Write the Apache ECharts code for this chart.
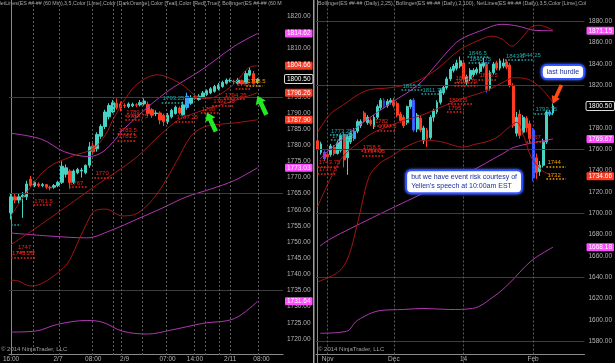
<!DOCTYPE html>
<html><head><meta charset="utf-8">
<script src="https://cdn.jsdelivr.net/npm/echarts@6/dist/echarts.min.js"></script>
<style>html,body{margin:0;padding:0;background:#000;}#c{width:615px;height:363px;}</style>
</head><body><div id="c"></div>
<script>
// ================= DATA =================
// ---- Left panel: ES 60 min ----
const leftBarCount = 70;
const leftTickIdx = [0, 12, 21, 29, 40, 47, 56, 64];
const leftTickText = ['16:00', '2/7', '08:00', '2/9', '07:00', '14:00', '2/11', '08:00'];
// [open, close, low, high]
const leftOHLC = [
 [1759,1764,1757,1765],[1764,1763,1762,1765],[1763,1764,1762,1765],[1764,1764.5,1757.5,1765.5],
 [1764,1768,1763,1769],[1769.5,1767.5,1767,1770.5],[1767.5,1768.5,1767,1769],[1768,1767.5,1767,1768.5],
 [1767.5,1767.8,1767,1768.3],[1767.8,1767,1766.5,1768],[1767,1766.8,1766,1767.5],[1767,1767.5,1766.5,1768],
 [1767.5,1768.5,1767,1769],[1768.5,1773.5,1768,1775],[1771,1773,1770,1774],[1772,1768.5,1766.5,1772.5],
 [1768.5,1772,1768,1772.5],[1771.5,1772.5,1771,1773],[1772,1772.3,1770,1773],[1771.5,1773.8,1771,1774],
 [1773.8,1779.5,1773,1781],[1779.8,1778,1777,1781],[1778.9,1783.3,1778,1784],[1782.8,1785.8,1782,1786.5],
 [1785.8,1790.3,1785,1791],[1788.8,1792.3,1788,1793],[1790.3,1793.2,1790,1794],[1793,1791.6,1791,1794.5],
 [1792.8,1791.5,1790.5,1793.5],[1792.3,1792.2,1791.5,1793],[1792,1792.8,1791.5,1793.3],[1792.2,1792.7,1791.8,1793.2],
 [1792.5,1792.4,1791.8,1793],[1792.5,1793.2,1792,1794],[1792.8,1793.7,1792.3,1794.5],[1792.6,1789.8,1789,1793.5],
 [1791,1789.3,1788.5,1791.5],[1789.8,1790,1789,1790.8],[1790,1787.8,1786.5,1790.5],[1789.3,1787.3,1786,1789.8],
 [1787.3,1789.3,1786.5,1790],[1788.8,1790.8,1788.3,1791.3],[1789.8,1791.8,1789.5,1792.3],[1791.5,1790,1789.5,1792],
 [1789.5,1792.5,1789,1793.5],[1791.7,1795.2,1791,1796.3],[1793,1794.6,1792.5,1795.5],[1795,1794.5,1794,1795.5],
 [1794.2,1795.2,1793.8,1795.8],[1794.7,1796.2,1794.3,1796.8],[1795.7,1796.9,1795.3,1797.3],[1796.2,1797.5,1795.8,1798],
 [1796.7,1798.2,1796.3,1798.7],[1797.5,1798.7,1797,1799.3],[1798.2,1799.5,1797.8,1800],[1799.2,1800.2,1798.8,1800.7],
 [1800,1800.1,1799.5,1800.7],[1799.8,1799.7,1799,1800.3],[1799.2,1800.2,1798.8,1800.8],[1800,1799,1798.5,1800.4],
 [1799.2,1802.2,1799,1803],[1801.7,1803.2,1801.3,1804.2],[1802.2,1799.2,1798.8,1803],[1799.4,1800.5,1799,1800.8]
];
// Bollinger bands: [bar index, price]
const leftBB25Upper = [[0,1758.1],[4.4,1766.1],[9.4,1773.0],[16.1,1776.8],[21,1778.9],[24.2,1783.4],[26,1787.8],[29.2,1794.4],[32.4,1799.1],[37.3,1801.8],[43.3,1799.1],[47.2,1795.3],[49.7,1794.4],[52.7,1795.3],[57.1,1799.1],[60.6,1803.9],[63,1804.66]];
const leftBB25Mid = [[0,1749.2],[5.2,1753.4],[14.3,1761.1],[21.8,1767.6],[31.7,1775.9],[38.3,1783.4],[42.8,1787.8],[49,1790.8],[57.1,1793.8],[63,1796.26]];
const leftBB25Lower = [[0,1738.2],[2,1737.9],[4.9,1736.4],[6.9,1736.7],[10.1,1738.8],[14.3,1743.2],[16.8,1749.2],[19.3,1755.7],[21.3,1759.6],[24.2,1760.2],[28.4,1758.1],[32.4,1759.0],[37.3,1764.9],[42.3,1775.0],[45.8,1782.5],[49,1785.5],[52.7,1786.4],[57.1,1786.9],[63,1787.90]];
const leftBB100Upper = [[0,1783.7],[7.7,1781.9],[13.6,1778.0],[20,1776.5],[23.5,1778.0],[26.7,1781.9],[28.7,1784.9],[39.1,1795.9],[49,1803.6],[57.1,1810.7],[63,1814.62]];
const leftBB100Mid = [[0,1752.8],[9.4,1751.9],[19.3,1751.3],[25.5,1753.6],[32.4,1757.2],[38.6,1760.5],[44.8,1764.0],[51,1766.4],[57.1,1769.1],[63,1773.03]];
const leftBB100Lower = [[0,1722.1],[6.2,1722.4],[11.9,1724.5],[19.3,1725.7],[23.5,1725.1],[28.4,1722.4],[34.9,1721.5],[40.8,1722.7],[49,1724.8],[57.1,1726.3],[63,1731.64]];
// NetLines: [text, price, from bar, to bar]
const leftNotesTeal = [['1793.25',1793.25,38.5,44],['',1755.5,0,2.5]];
const leftNotesRed = [['1761.5',1761.5,5.7,10.6],['1767',1767,14.8,19.3],['1770',1770,21.3,26],['1783.5',1783.5,27.2,31.7],['1781.5',1781.5,27.2,31.7],['1789',1789,29.2,32.9],['1787.75',1787.75,29.2,33.5],['1787.25',1787.25,42,47],['1790',1790,48.5,53.4],['1792.25',1792.25,51.4,56.9],['1794.25',1794.25,54.4,60.1],['1797.5',1797.5,57.4,61.3],['1747',1747,1.5,6.4],['1745.25',1745.25,0,6.4]];
const leftNotesOrange = [['1798.5',1798.5,60.1,64.3]];
const leftFlagMagenta = [1814.62, 1773.03, 1731.64];
const leftFlagRed = [1804.66, 1796.26, 1787.90];
const leftLast = 1800.50;
const leftArrows = [[51.2,1787.2],[64.1,1792.4]];
const leftHGrid = [1735, 1765, 1795];
const leftVGrid = [5.7, 12.4, 20.8, 26.2, 28.2, 33.4, 39.6, 46.7, 49.7, 53.2, 55.9, 63.3];

// ---- Right panel: ES daily ----
const rightBarCount = 81;
const rightTickIdx = [3, 23, 44, 65];
const rightTickText = ['Nov', 'Dec', '14', 'Feb'];
const rightOHLC = [
 [1768,1760,1757,1771],[1757,1765,1755,1767],[1757,1751,1749,1759],[1755,1753,1750,1757],
 [1755,1763,1753,1765],[1762,1756,1754,1764],[1756,1766,1755,1768],[1759,1773,1757,1775],
 [1774,1750,1743,1776],[1752,1772,1736,1774],[1767,1775,1765,1777],[1770,1777,1768,1780],
 [1777,1786,1775,1788],[1782,1786,1780,1788],[1794,1787,1785,1796],[1785,1790,1783,1792],
 [1787,1784,1782,1789],[1781,1790,1779,1792],[1790,1800,1788,1802],[1799,1806,1797,1808],
 [1800,1806,1798,1808],[1801,1805,1799,1807],[1804,1806,1802,1808],[1806,1801,1799,1808],
 [1803,1792,1790,1805],[1793,1787,1785,1795],[1790,1782,1780,1792],[1785,1800,1783,1801],
 [1800,1806,1798,1807],[1806,1778,1776,1808],[1779,1792,1776,1794],[1789,1778,1776,1792],
 [1768,1780,1765,1782],[1778,1770,1762,1780],[1771,1790,1769,1792],[1790,1796,1786,1798],
 [1795,1804,1793,1806],[1804,1815,1802,1817],[1813,1818,1811,1820],[1818,1826,1816,1828],
 [1826,1835,1824,1837],[1834,1838,1832,1840],[1836,1841,1834,1844],[1838,1843,1836,1847],
 [1841,1826,1824,1844],[1823,1828,1820,1830],[1826,1834,1824,1836],[1830,1834,1828,1836],
 [1832,1835,1830,1837],[1833,1840,1831,1842],[1838,1841,1836,1846],[1840,1816,1813,1842],
 [1817,1832,1815,1834],[1832,1840,1830,1842],[1841,1836,1834,1843],[1836,1843,1834,1845],
 [1838,1841,1836,1845],[1842,1837,1835,1844],[1839,1820,1818,1841],[1820,1782,1780,1822],
 [1775,1790,1772,1795],[1793,1773,1770,1797],[1776,1790,1774,1792],[1789,1780,1776,1791],
 [1784,1770,1766,1787],[1778,1733,1730,1780],[1752,1738,1732,1756],[1739,1745,1735,1749],
 [1745,1767,1743,1770],[1767,1795,1765,1797],[1793,1795,1791,1797],[1794,1800.5,1792,1803]
];
const rightBB25Upper = [[0,1776.0],[3.7,1792.7],[7.5,1801.1],[14.6,1815.0],[22.1,1817.8],[28.9,1822.4],[35.7,1834.5],[42.8,1853.1],[48.8,1862.4],[52.6,1866.1],[55.6,1863.3],[58.6,1856.8],[61.5,1864.2],[64.4,1874.4],[66.9,1876.3],[71,1871.6]];
const rightBB25Mid = [[0,1706.3],[3.7,1731.4],[7.5,1752.8],[12.6,1766.7],[17,1776.0],[21.5,1781.6],[25.9,1787.1],[30.4,1790.8],[36.3,1798.3],[42.8,1806.6],[47.6,1811.3],[51.7,1815.9],[55.6,1822.4],[59.4,1827.1],[62.9,1826.1],[65.4,1822.4],[68.1,1815.0],[71,1803.8]];
const rightBB25Lower = [[0,1635.7],[3.7,1640.4],[6.6,1645.9],[9,1657.1],[11.1,1678.5],[13.2,1706.3],[15.5,1734.2],[18.5,1746.3],[22.9,1754.6],[25.9,1761.1],[29.8,1766.7],[32.7,1768.5],[37.8,1766.7],[40.7,1763.9],[43.7,1762.0],[47.6,1764.8],[50.5,1766.7],[54.1,1771.3],[57.7,1780.6],[60,1785.3],[62.3,1771.3],[64.4,1752.8],[67.5,1740.7],[71,1734.66]];
const rightBB100Upper = [[0.7,1750.9],[2.8,1757.4],[12.6,1782.5],[22.3,1803.8],[30.4,1820.6],[35.7,1839.1],[39.3,1852.1],[42.8,1862.4],[48.8,1870.7],[55.6,1877.2],[60.6,1875.4],[65.4,1871.6],[71,1871.15]];
const rightBB100Mid = [[0.7,1669.2],[3.7,1675.7],[16.1,1695.2],[31,1717.5],[45.8,1738.8],[55.6,1755.5],[59.4,1762.0],[71,1769.67]];
const rightBB100Lower = [[0.7,1587.4],[8.7,1589.3],[12,1599.5],[19.1,1608.8],[25.9,1609.7],[31.8,1610.7],[39.9,1609.7],[46.7,1610.7],[53.5,1622.7],[57.7,1633.9],[64.4,1655.2],[71,1668.18]];
const rightNotesTeal = [['1773.25',1773.25,3.7,11.4],['1768.75',1768.75,4,11],['1815.5',1815.5,25.3,31.8],['1811.75',1811.75,31.3,37.5],['1846.5',1846.5,45.2,51.7],['1840.75',1840.75,45.5,52],['1843.5',1843.5,56.5,61],['1844.25',1844.25,60.5,65.4],['1793.75',1793.75,65.4,70.7]];
const rightNotesRed = [['1743.75',1743.75,0,6.6],['1737.5',1737.5,0,5.5],['1758.5',1758.5,13.2,20],['1754.25',1754.25,13.5,20],['1782',1782,17,22.9],['1777.5',1777.5,18,23.5],['1802.5',1802.5,39.3,46.7],['1795',1795,39,44],['1822.5',1822.5,41.3,48.2],['1819.75',1819.75,41.3,48.2],['1825.5',1825.5,48.5,54],['1767',1767,63,68]];
const rightNotesOrange = [['1744',1744,69,74.9],['1732',1732,69,74.9]];
const rightFlagMagenta = [1871.15, 1769.67, 1668.18];
const rightFlagRed = [1734.66];
const rightLast = 1800.50;
const rightArrow = [72.2, 1811.3];
const rightHGrid = [1580, 1640, 1700, 1760, 1820, 1880];
const rightVGrid = [3, 23, 44, 65];
const calloutHurdle = ['last hurdle', 74, 1832.5];
const calloutYellen = ['but we have event risk courtesy of\nYellen\'s speech at 10:00am EST', 27, 1729.5];

// ================= STYLE / BUILD =================
const FONT = 'Liberation Sans, Arial, sans-serif';
const UP = '#45d3c3', DOWN = '#ff3b22';
const BBRED = '#a31414', BBMAG = '#b236b2';
const TEAL = '#1fa5a5', NRED = '#e8261c', ORANGE = '#f0a000';
const AXC = '#b4b4b4';
const BLUEC = '#3aa2ff';
const leftSpecial = {45: {color: BLUEC, borderColor: BLUEC}};
const rightSpecial = {
  2: {color0: '#8a3fc8', borderColor0: '#4a5cff'},
  11: {color: BLUEC, borderColor: BLUEC},
  20: {color: '#2546c8', borderColor: '#2546c8'},
  29: {borderColor0: '#3355ff'},
  51: {borderColor0: '#3355ff'},
  65: {borderColor0: '#3355ff'},
  70: {color: BLUEC, borderColor: BLUEC}
};
function candles(ohlc, special) {
  return ohlc.map((d, i) => special[i] ? {value: d, itemStyle: special[i]} : d);
}
function cats(n) { return Array.from({length: n}, (_, i) => 'b' + i); }
function band(data, color, xi, yi) {
  return {type: 'line', xAxisIndex: xi, yAxisIndex: yi, data: data, smooth: 0.35, symbol: 'none',
    showSymbol: false, lineStyle: {color: color, width: 1}, z: 3, silent: true, animation: false};
}
function notes(list, color) {
  return list.map(([t, p, a, b]) => [
    {coord: [a, p], name: t, lineStyle: {color: color, type: 'dotted', width: 1.6}, label: {color: color}},
    {coord: [b, p]}
  ]);
}
function flags(vals, bg, fg, border) {
  return vals.map(v => ({yAxis: v, label: {backgroundColor: bg, color: fg, borderColor: border || bg, borderWidth: border ? 1 : 0}}));
}
function gridLines(h, v) {
  return h.map(y => ({yAxis: y, lineStyle: {color: '#3c3c3c', type: 'solid', width: 1}}))
    .concat(v.map(x => ({xAxis: x, lineStyle: {color: '#5c5c5c', type: [2, 2], width: 1}})));
}
const arrowPath = 'path://M6,0 L12,9 L8.5,9 L8.5,24 L3.5,24 L3.5,9 L0,9 Z';
const noteLabel = {show: true, position: 'insideStartTop', formatter: '{b}', fontSize: 6, distance: 1, fontFamily: FONT};
const flagLabel = {show: true, position: 'end', distance: 2, fontSize: 6.5, fontFamily: FONT,
  padding: [1, 2, 0, 2], borderRadius: 1, formatter: p => p.value.toFixed(2)};
const calloutLabel = {show: true, backgroundColor: '#ffffff', borderColor: '#2a4dff', borderWidth: 2,
  borderRadius: 4, padding: [2, 4, 1, 4], color: '#1c2f9e', fontSize: 7, lineHeight: 9, fontFamily: FONT,
  shadowBlur: 3, shadowColor: '#4d6bff'};

function panel(gi, ohlc, special, n, bw, bands, nt, nr, no, fm, fr, last, hgrid, vgrid, extraPoints) {
  const xc = gi * 2, xv = gi * 2 + 1, yi = gi;
  const s = [];
  s.push({type: 'line', xAxisIndex: xv, yAxisIndex: yi, data: [], z: 1, silent: true, animation: false,
    markLine: {symbol: ['none', 'none'], silent: true, animation: false, label: {show: false}, data: gridLines(hgrid, vgrid)}});
  s.push({type: 'candlestick', xAxisIndex: xc, yAxisIndex: yi, data: candles(ohlc, special), barWidth: bw, z: 2,
    silent: true, animation: false,
    itemStyle: {color: UP, color0: DOWN, borderColor: UP, borderColor0: DOWN, borderWidth: 1}});
  bands.forEach(b => s.push(band(b[0], b[1], xv, yi)));
  s.push({type: 'line', xAxisIndex: xv, yAxisIndex: yi, data: [], z: 5, silent: true, animation: false,
    markLine: {symbol: ['none', 'none'], silent: true, animation: false, label: noteLabel,
      data: notes(nt, TEAL).concat(notes(nr, NRED), notes(no, ORANGE))},
    markPoint: {silent: true, animation: false, data: extraPoints}});
  s.push({type: 'line', xAxisIndex: xv, yAxisIndex: yi, data: [], z: 6, silent: true, animation: false,
    markLine: {symbol: ['none', 'none'], silent: true, animation: false,
      lineStyle: {color: 'rgba(0,0,0,0)', width: 0}, label: flagLabel,
      data: flags(fm, '#ff4dff', '#ffffff').concat(flags(fr, '#ff3a22', '#ffffff'), flags([last], '#000000', '#ffffff', '#dddddd'))}});
  return s;
}

const leftPoints = leftArrows.map(c => ({coord: c, symbol: arrowPath, symbolSize: [11, 21], symbolRotate: 25,
  itemStyle: {color: '#23e823'}, label: {show: false}}));
const rightPoints = [
  {coord: [rightArrow[0], rightArrow[1]], symbol: arrowPath, symbolSize: [9, 21], symbolRotate: 155,
    itemStyle: {color: '#ff4a10'}, label: {show: false}},
  {coord: [calloutHurdle[1], calloutHurdle[2]], symbol: 'rect', symbolSize: 1, itemStyle: {color: 'rgba(0,0,0,0)'},
    label: Object.assign({}, calloutLabel, {position: 'inside', formatter: calloutHurdle[0]})},
  {coord: [calloutYellen[1], calloutYellen[2]], symbol: 'rect', symbolSize: 1, itemStyle: {color: 'rgba(0,0,0,0)'},
    label: Object.assign({}, calloutLabel, {position: 'inside', align: 'left', formatter: calloutYellen[0]})}
];

const series = [].concat(
  panel(0, leftOHLC, leftSpecial, leftBarCount, 3,
    [[leftBB100Upper, BBMAG], [leftBB100Mid, BBMAG], [leftBB100Lower, BBMAG],
     [leftBB25Upper, BBRED], [leftBB25Mid, BBRED], [leftBB25Lower, BBRED]],
    leftNotesTeal, leftNotesRed, leftNotesOrange, leftFlagMagenta, leftFlagRed, leftLast, leftHGrid, leftVGrid, leftPoints),
  panel(1, rightOHLC, rightSpecial, rightBarCount, 2.4,
    [[rightBB100Upper, BBMAG], [rightBB100Mid, BBMAG], [rightBB100Lower, BBMAG],
     [rightBB25Upper, BBRED], [rightBB25Mid, BBRED], [rightBB25Lower, BBRED]],
    rightNotesTeal, rightNotesRed, rightNotesOrange, rightFlagMagenta, rightFlagRed, rightLast, rightHGrid,
    rightVGrid, rightPoints)
);

function catAxis(gi, n, tickIdx, tickText, offset) {
  return {type: 'category', gridIndex: gi, data: cats(n), boundaryGap: true, offset: offset,
    axisLine: {show: true, lineStyle: {color: '#8a8a8a', width: 1}}, axisTick: {show: false},
    splitLine: {show: false},
    axisLabel: {show: true, color: AXC, fontSize: 6.5, fontFamily: FONT, margin: 2, hideOverlap: false,
      interval: (i) => tickIdx.indexOf(i) >= 0,
      formatter: (v, i) => { const k = tickIdx.indexOf(i); return k >= 0 ? tickText[k] : ''; }}};
}
function valAxis(gi, n) {
  return {type: 'value', gridIndex: gi, min: -0.5, max: n - 0.5, show: false, splitLine: {show: false}};
}
function yAxis(gi, min, max, step, lo, hi) {
  return {type: 'value', gridIndex: gi, position: 'right', min: min, max: max, interval: step, scale: true,
    axisLine: {show: true, lineStyle: {color: '#8a8a8a', width: 1}}, axisTick: {show: false},
    splitLine: {show: false},
    axisLabel: {color: AXC, fontSize: 6.5, fontFamily: FONT, margin: 4, showMinLabel: true, showMaxLabel: true,
      formatter: v => (v < lo || v > hi) ? '' : v.toFixed(2)}};
}

const chart = echarts.init(document.getElementById('c'), null, {renderer: 'canvas', width: 615, height: 363});
chart.setOption({
  backgroundColor: '#000000',
  animation: false,
  grid: [
    {left: 0, top: -15, width: 283, height: 370},
    {left: 316, top: -3.5, width: 273, height: 366}
  ],
  xAxis: [
    catAxis(0, leftBarCount, leftTickIdx, leftTickText, -1),
    valAxis(0, leftBarCount),
    catAxis(1, rightBarCount, rightTickIdx, rightTickText, -8.5),
    valAxis(1, rightBarCount)
  ],
  yAxis: [
    yAxis(0, 1715, 1825, 5, 1720, 1820),
    yAxis(1, 1560, 1900, 20, 1580, 1880)
  ],
  series: series,
  graphic: [
    {type: 'rect', shape: {x: 313, y: 0, width: 1.5, height: 363}, style: {fill: '#a0a0a0'}, silent: true},
    {type: 'text', x: -3, y: 1, silent: true, style: {text: 'NetLines(ES ##-## (60 Min),3,5,Color [Lime],Color [DarkOrange],Color [Teal],Color [Red],True), Bollinger(ES ##-## (60 Min),2,25)',
      fill: '#a8a8a8', fontSize: 5.3, fontFamily: FONT, width: 286, overflow: 'truncate', ellipsis: ''}},
    {type: 'text', x: 318, y: 1, silent: true, style: {text: 'Bollinger(ES ##-## (Daily),2,25), Bollinger(ES ##-## (Daily),2,100), NetLines(ES ##-## (Daily),3,5,Color [Lime],Color [DarkOrange])',
      fill: '#a8a8a8', fontSize: 5.3, fontFamily: FONT, width: 270, overflow: 'truncate', ellipsis: ''}},
    {type: 'text', x: 1, y: 346, silent: true, style: {text: '© 2014 NinjaTrader, LLC', fill: '#a0a0a0', fontSize: 6, fontFamily: FONT}},
    {type: 'text', x: 318, y: 346, silent: true, style: {text: '© 2014 NinjaTrader, LLC', fill: '#a0a0a0', fontSize: 6, fontFamily: FONT}}
  ]
});
</script>
</body></html>
